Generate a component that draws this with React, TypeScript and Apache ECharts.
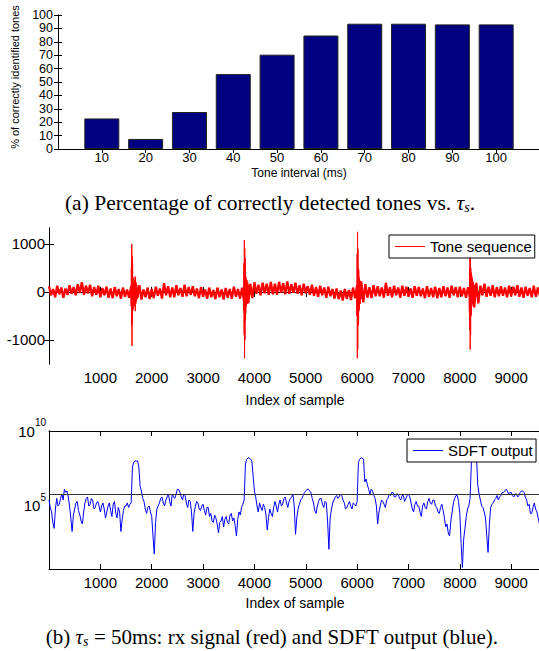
import React, { useEffect, useRef } from 'react';
import * as echarts from 'echarts';

// ---------- (a) bar chart data ----------
const toneIntervalLabels = ['10', '20', '30', '40', '50', '60', '70', '80', '90', '100'];
const toneSlots = [1, 2, 3, 4, 5, 6, 7, 8, 9, 10];
const detectionRate = [22.8, 7.5, 27.6, 55.9, 70.4, 84.7, 93.5, 93.5, 93, 93];

// ---------- (b) tick labels ----------
const sampleTicks = [1000, 2000, 3000, 4000, 5000, 6000, 7000, 8000, 9000];
const amplitudeTicks = [-1000, 0, 1000];
const sdftTicks = [1e5, 1e10];

// ---------- (b) rx signal (red) ----------
const RED_STEP = 40; // samples between band points
const toneBand = [
  120, -70, 60, -110, 130, -50, 90, -120, 70, -60,
  140, -40, 100, -70, 160, -20, 200, -60, 130, -30,
  150, -90, 100, -60, 130, -110, 80, -70, 110, -120,
  70, -130, 100, -90, 60, -140, 90, -100, 50, -120,
  120, -170, 90, -120, 140, -160, 50, -110, 90, -150,
  60, -130, 110, -80, 70, -140, 180, -70, 120, -110,
  90, -110, 140, -70, 80, -100, 150, -90, 100, -60,
  120, -90, 70, -130, 100, -100, 50, -140, 90, -110,
  40, -150, 90, -110, 50, -160, 80, -120, 60, -140,
  110, -100, 60, -140, 90, -190, 250, -240, 170, -130,
  200, -40, 150, -70, 190, -30, 170, -60, 210, -50,
  170, -60, 210, -20, 180, -50, 220, -40, 160, -20,
  190, -40, 140, -70, 170, -30, 120, -60, 150, -80,
  100, -100, 130, -70, 90, -120, 110, -90, 60, -140,
  70, -150, 30, -180, 60, -140, 40, -170, 90, -130,
  140, -160, 220, -220, 160, -120, 100, -130, 140, -90,
  120, -90, 90, -120, 190, -80, 100, -110, 130, -70,
  90, -120, 130, -80, 110, -100, 70, -120, 120, -80,
  100, -90, 70, -130, 120, -100, 80, -110, 110, -130,
  80, -110, 120, -90, 90, -120, 130, -70, 100, -110,
  110, -90, 80, -120, 100, -110, 220, -320, 190, -240,
  130, -70, 170, -100, 110, -80, 140, -110, 100, -90,
  120, -80, 90, -110, 130, -90, 110, -70, 140, -100,
  90, -120, 110, -80, 80, -110, 130, -100, 90, -90,
  110,
];
const toneBurst1 = [
  [1590, 0], [1600, -300], [1604, 500], [1608, -700], [1612, 1000], [1616, -1120], [1620, 750],
  [1624, -650], [1628, 600], [1632, -400], [1636, 300], [1640, -350], [1645, 200], [1650, -250],
  [1655, 150], [1660, -300], [1665, 250], [1670, -200], [1675, 320], [1680, -400], [1685, 300],
  [1690, -250], [1695, 200], [1700, -200], [1710, 150], [1720, -150], [1730, 100], [1740, -120], [1750, 0],
];
const toneBurst2 = [
  [3780, 0], [3790, -400], [3795, 600], [3800, -900], [3804, 1080], [3808, -1380], [3812, 900],
  [3816, -1000], [3820, 700], [3824, -600], [3828, 400], [3832, -450], [3836, 300], [3840, -300],
  [3850, 250], [3860, -250], [3870, 200], [3880, -200], [3890, 150], [3900, -120], [3920, 150], [3940, -80],
];
const toneBurst3 = [
  [5990, 0], [5995, -500], [6000, 800], [6004, -1380], [6008, 1250], [6012, -1200], [6016, 900],
  [6020, -700], [6024, 500], [6028, -650], [6032, 450], [6036, -400], [6040, 300], [6045, -350],
  [6050, 250], [6060, -250], [6070, 200], [6080, -150], [6090, 150], [6100, -100],
];
const toneBurst4 = [
  [8180, 0], [8185, -400], [8190, 500], [8194, -800], [8198, 800], [8202, -1200], [8206, 700],
  [8210, -900], [8214, 500], [8218, -500], [8222, 400], [8226, -450], [8230, 350], [8235, -300],
  [8240, 300], [8250, -250], [8260, 200], [8270, -200], [8280, 150], [8290, -150], [8300, 100], [8320, -80],
];

// ---------- (b) SDFT output (blue) ----------
const BLUE_STEP = 25;
const sdftOutput = [
  2.5e5, 8e4, 4e4, 8e3, 3.2e3, 6.3e4, 3.2e5, 1e5, 1.3e5, 3.2e5, 6.3e5, 2.5e5, 1.3e6, 8e5, 1e6, 4e5, 1e5, 1.6e4, 2e3, 2.5e4,
  6.3e4, 1.6e5, 2e5, 5e4, 2.5e4, 1e4, 6.3e3, 4e4, 1.6e5, 3.2e5, 4e5, 1e5, 1.3e5, 3.2e5, 2.5e5, 6.3e4, 8e4, 1.6e5, 2e5, 1e5,
  4e4, 1e5, 1.6e5, 6.3e4, 1.6e4, 4e4, 1e5, 1.6e5, 5e4, 2e4, 1.3e5, 2e5, 3.2e4, 1.6e4, 8e4, 4e4, 2e3, 1.3e4, 5e4, 1e5,
  1e5, 1.6e5, 8e4, 1.3e5, 1.6e5, 4e7, 8e7, 1e8, 1e8, 1e8, 4e7, 2e6, 1e6, 3.2e5, 2e5, 6.3e4, 3.2e4, 8e4, 1e5, 4e4,
  2e4, 1e3, 63, 8e3, 6.3e4, 1e5, 1.6e5, 3.2e5, 4e5, 1.6e5, 1e5, 2.5e5, 4e5, 6.3e5, 2e5, 1e5, 6.3e5, 4e5, 3.2e5, 6.3e5,
  1.3e6, 1.3e6, 8e5, 4e5, 2.5e5, 6.3e5, 5e5, 1.6e5, 8e4, 2.5e5, 2e5, 4e4, 2e3, 3.2e4, 1e5, 2e5, 1.6e5, 6.3e4, 5e4, 1e5,
  1.3e5, 5e4, 2.5e4, 8e4, 8e4, 2e4, 3.2e4, 1e4, 8e3, 2.5e4, 1.6e4, 6.3e3, 1.6e3, 8e3, 1e4, 2e4, 4e3, 1.3e4, 2e4, 8e3,
  6.3e3, 2.5e4, 3.2e4, 1e4, 1.6e4, 5e3, 1e3, 1.3e4, 4e4, 2.5e4, 8e4, 1.3e5, 2.5e5, 6.3e7, 1.3e8, 1.6e8, 1.6e8, 1.3e8, 1e8, 1e7,
  1e6, 4e5, 1e5, 4e4, 1.6e5, 8e4, 5e4, 1.3e5, 8e4, 2.5e4, 2.5e3, 1.6e4, 6.3e4, 3.2e4, 2e4, 8e4, 2e5, 1e5, 4e4, 1.3e5,
  2.5e5, 1e5, 1.3e5, 3.2e5, 4e5, 1.6e5, 8e4, 2e5, 3.2e5, 4e5, 6.3e5, 1e5, 1.3e3, 1.6e4, 6.3e4, 1.3e5, 2.5e5, 3.2e5, 5e5, 8e5,
  1e6, 1.3e6, 1.3e6, 1e6, 8e5, 3.2e5, 1.6e5, 5e4, 3.2e4, 1e5, 2e5, 3.2e5, 3.2e5, 1.3e5, 8e4, 2e5, 1.6e5, 1e4, 130, 1.6e4,
  6.3e4, 1.6e5, 2.5e5, 4e5, 5e5, 3.2e5, 4e5, 6.3e5, 5e5, 2.5e5, 1.6e5, 6.3e4, 8e4, 1.3e5, 2e5, 1e5, 6.3e4, 1.6e5, 1.3e5, 1e5,
  2e5, 8e7, 1.3e8, 1.6e8, 1.6e8, 1.3e8, 4e6, 6.3e6, 2.5e6, 1.3e6, 6.3e5, 1.3e6, 1e6, 5e5, 3.2e5, 1e5, 6.3e3, 4e4, 1e5, 2.5e5,
  2e5, 1.3e5, 8e4, 2.5e5, 3.2e5, 6.3e5, 5e5, 8e5, 8e5, 4e5, 4e5, 6.3e5, 6.3e5, 3.2e5, 2.5e5, 5e5, 5e5, 2e5, 3.2e5, 5e5,
  6.3e5, 4e5, 1.6e5, 6.3e4, 4e4, 1.3e5, 2e5, 1e5, 1e5, 4e4, 2e4, 1e5, 1.6e5, 8e4, 6.3e4, 2e5, 3.2e5, 1.6e5, 1.3e5, 2.5e5,
  2.5e5, 1e5, 8e4, 4e4, 3.2e4, 8e4, 1.3e5, 5e4, 1.6e4, 4e3, 6.3e3, 1.6e3, 1e3, 1e4, 4e4, 1.6e5, 3.2e5, 5e5, 5e5, 2e5,
  3.2e4, 320, 8, 630, 3.2e3, 2e4, 6.3e4, 1e5, 3.2e5, 8e7, 2e8, 2e8, 2e8, 1.6e8, 2.5e6, 6.3e5, 2.5e5, 1e5, 8e4, 4e4,
  1.6e4, 1e3, 80, 6.3e3, 8e4, 1.3e5, 1.6e5, 2.5e5, 3.2e5, 5e5, 2.5e5, 4e5, 5e5, 8e5, 8e5, 1e6, 1.3e6, 1e6, 6.3e5, 8e5,
  8e5, 5e5, 4e5, 6.3e5, 6.3e5, 4e5, 5e5, 8e5, 1e6, 1e6, 8e5, 4e5, 2.5e5, 1e5, 1.3e5, 3.2e4, 3.2e4, 8e4, 1.6e5, 6.3e4,
  4e4, 1.6e4, 6.3e3, 4e4, 1e5,
];
const sdftThreshold = 6.3e5;

const SANS = '"Liberation Sans", Arial, Helvetica, sans-serif';
const SERIF = '"Liberation Serif", "Times New Roman", serif';
const BLACK = '#000';

function sameLog(a: number, b: number) {
  return Math.abs(Math.log10(a) - Math.log10(b)) < 1e-6;
}

function buildOption() {
  const line = { show: true, lineStyle: { color: BLACK, width: 1 } };
  const tick = (len: number, values?: number[]) => ({
    show: true,
    inside: true,
    length: len,
    lineStyle: { color: BLACK, width: 1 },
    ...(values ? { customValues: values } : {}),
  });
  const hiddenLabel = { show: false };

  const xBar = (position: 'bottom' | 'top') => ({
    type: 'value',
    gridIndex: 0,
    position,
    min: 0,
    max: 11,
    axisLine: line,
    axisTick: tick(4, toneSlots),
    splitLine: { show: false },
    axisLabel:
      position === 'bottom'
        ? {
            customValues: toneSlots,
            formatter: (v: number) => {
              const i = toneSlots.indexOf(Math.round(v));
              return i >= 0 ? toneIntervalLabels[i] : '';
            },
            fontSize: 13,
            fontFamily: SANS,
            color: BLACK,
            margin: 2,
          }
        : hiddenLabel,
  });

  const xSample = (grid: number, position: 'bottom' | 'top') => ({
    type: 'value',
    gridIndex: grid,
    position,
    min: 0,
    max: 9600,
    axisLine: line,
    axisTick: tick(5, sampleTicks),
    splitLine: { show: false },
    axisLabel:
      position === 'bottom'
        ? {
            customValues: sampleTicks,
            formatter: (v: number) => String(v),
            fontSize: 15,
            fontFamily: SANS,
            color: BLACK,
            margin: 6,
          }
        : hiddenLabel,
  });

  const yBar = (position: 'left' | 'right') => ({
    type: 'value',
    gridIndex: 0,
    position,
    min: 0,
    max: 100,
    interval: 10,
    axisLine: line,
    axisTick: tick(4),
    splitLine: { show: false },
    axisLabel:
      position === 'left'
        ? { fontSize: 12.5, fontFamily: SANS, color: BLACK, margin: 5, lineHeight: 13 }
        : hiddenLabel,
  });

  const yAmp = (position: 'left' | 'right') => ({
    type: 'value',
    gridIndex: 1,
    position,
    min: -1500,
    max: 1330,
    axisLine: line,
    axisTick: tick(5, amplitudeTicks),
    splitLine: { show: false },
    axisLabel:
      position === 'left'
        ? {
            customValues: amplitudeTicks,
            formatter: (v: number) => String(v),
            fontSize: 15,
            fontFamily: SANS,
            color: BLACK,
            margin: 4,
          }
        : hiddenLabel,
  });

  const ySdft = (position: 'left' | 'right') => ({
    type: 'log',
    logBase: 10,
    gridIndex: 2,
    position,
    min: 6.3,
    max: 1e10,
    axisLine: line,
    axisTick: { show: false },
    splitLine: { show: false },
    axisLabel:
      position === 'left'
        ? {
            showMinLabel: true,
            showMaxLabel: true,
            formatter: (v: number) => {
              const t = sdftTicks.find((s) => sameLog(s, v));
              if (t === undefined) return '';
              return `{b|10}{s|${Math.round(Math.log10(t))}}`;
            },
            margin: 3,
            rich: {
              b: { fontSize: 15, fontFamily: SANS, color: BLACK },
              s: { fontSize: 10, fontFamily: SANS, color: BLACK, padding: [0, 0, 17, 0] },
            },
          }
        : hiddenLabel,
  });

  const legendBase = {
    orient: 'horizontal',
    icon: 'rect',
    itemWidth: 30,
    itemHeight: 1,
    backgroundColor: '#fff',
    borderColor: BLACK,
    borderWidth: 1,
    borderRadius: 0,
    selectedMode: false,
    padding: [4, 3, 4, 6],
    textStyle: { fontSize: 15, fontFamily: SANS, color: BLACK },
  };

  const burst = (data: number[][]) => ({
    type: 'line',
    name: 'tone-burst',
    xAxisIndex: 2,
    yAxisIndex: 2,
    data,
    showSymbol: false,
    symbol: 'none',
    color: '#ff0000',
    lineStyle: { color: '#ff0000', width: 1 },
    z: 3,
  });

  const caption = (text: string, x: number, y: number, size: number) => ({
    type: 'text',
    x,
    y,
    style: {
      text,
      fontSize: size,
      fontFamily: SERIF,
      fill: BLACK,
      align: 'center',
      verticalAlign: 'middle',
      rich: {
        t: { fontSize: size, fontFamily: SERIF, fontStyle: 'italic', fill: BLACK },
        s: { fontSize: 14, fontFamily: SERIF, fontStyle: 'italic', fill: BLACK, padding: [9, 0, 0, 0] },
      },
    },
  });

  return {
    animation: false,
    backgroundColor: '#fff',
    grid: [
      { left: 58, top: 15, width: 482, height: 134 },
      { left: 49, top: 228, width: 493, height: 136 },
      { left: 49, top: 431, width: 493, height: 138 },
    ],
    xAxis: [xBar('bottom'), xBar('top'), xSample(1, 'bottom'), xSample(1, 'top'), xSample(2, 'bottom'), xSample(2, 'top')],
    yAxis: [yBar('left'), yBar('right'), yAmp('left'), yAmp('right'), ySdft('left'), ySdft('right')],
    legend: [
      { ...legendBase, data: ['Tone sequence'], left: 389, top: 235 },
      { ...legendBase, data: ['SDFT output'], left: 407, top: 439 },
    ],
    series: [
      {
        type: 'bar',
        name: 'Detected',
        xAxisIndex: 0,
        yAxisIndex: 0,
        data: toneSlots.map((s, i) => [s, detectionRate[i]]),
        barWidth: 35,
        itemStyle: { color: '#000080', borderColor: '#222', borderWidth: 1 },
      },
      {
        type: 'line',
        name: 'Tone sequence',
        xAxisIndex: 2,
        yAxisIndex: 2,
        data: toneBand.map((v, i) => [i * RED_STEP, v]),
        showSymbol: false,
        symbol: 'none',
        color: '#ff0000',
        lineStyle: { color: '#ff0000', width: 2.3, join: 'bevel' },
      },
      burst(toneBurst1),
      burst(toneBurst2),
      burst(toneBurst3),
      burst(toneBurst4),
      {
        type: 'line',
        name: 'SDFT output',
        xAxisIndex: 4,
        yAxisIndex: 4,
        data: sdftOutput.map((v, i) => [i * BLUE_STEP, v]),
        showSymbol: false,
        symbol: 'none',
        color: '#0000ff',
        lineStyle: { color: '#0000ff', width: 1 },
        markLine: {
          silent: true,
          symbol: 'none',
          label: { show: false },
          lineStyle: { color: '#333', width: 1, type: 'solid' },
          data: [{ yAxis: sdftThreshold }],
        },
      },
    ],
    graphic: [
      {
        type: 'text',
        x: 15,
        y: 77,
        rotation: Math.PI / 2,
        style: {
          text: '% of correctly identified tones',
          fontSize: 11,
          fontFamily: SANS,
          fill: BLACK,
          align: 'center',
          verticalAlign: 'middle',
        },
      },
      {
        type: 'text',
        x: 299,
        y: 173,
        style: { text: 'Tone interval (ms)', fontSize: 12, fontFamily: SANS, fill: BLACK, align: 'center', verticalAlign: 'middle' },
      },
      {
        type: 'text',
        x: 295,
        y: 400,
        style: { text: 'Index of sample', fontSize: 14, fontFamily: SANS, fill: BLACK, align: 'center', verticalAlign: 'middle' },
      },
      {
        type: 'text',
        x: 295,
        y: 603,
        style: { text: 'Index of sample', fontSize: 14, fontFamily: SANS, fill: BLACK, align: 'center', verticalAlign: 'middle' },
      },
      caption('(a) Percentage of correctly detected tones vs. {t|τ}{s|s}.', 270, 203, 21.5),
      caption('(b) {t|τ}{s|s} = 50ms: rx signal (red) and SDFT output (blue).', 272, 637, 21),
    ],
  };
}

export default function App() {
  const ref = useRef<HTMLDivElement>(null);
  useEffect(() => {
    if (!ref.current) return;
    const chart = echarts.init(ref.current, undefined, { renderer: 'svg' });
    chart.setOption(buildOption() as any);
    return () => chart.dispose();
  }, []);
  return (
    <div style={{ position: 'absolute', left: 0, top: 0, width: 539, height: 651, overflow: 'hidden', background: '#fff' }}>
      <div ref={ref} style={{ width: 560, height: 651 }} />
    </div>
  );
}
